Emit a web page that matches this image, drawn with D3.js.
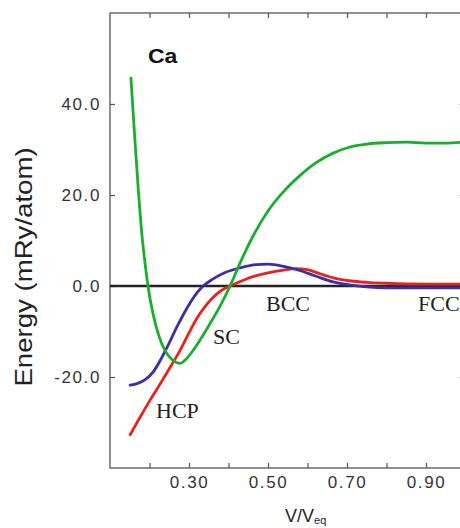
<!DOCTYPE html>
<html><head><meta charset="utf-8">
<script src="https://cdn.jsdelivr.net/npm/d3@7"></script>
<style>html,body{margin:0;padding:0;background:#fff;overflow:hidden}</style>
</head><body>
<svg id="c" width="460" height="528"></svg>
<script>
// ---- data ----
const scV  = [0.153,0.162,0.171,0.180,0.189,0.197,0.21,0.225,0.24,0.255,0.268,0.278,0.29,0.31,0.33,0.353,0.38,0.404,0.43,0.46,0.50,0.54,0.58,0.62,0.665,0.71,0.75,0.80,0.85,0.90,0.95,1.0];
const scE  = [45.7,33.5,22,12,4.8,-0.5,-6.5,-11.3,-14.3,-16.0,-16.8,-17.0,-16.3,-14.2,-11.6,-8.3,-4.2,0,5.2,10.6,16.5,20.8,24.2,27.0,29.2,30.6,31.2,31.5,31.6,31.4,31.4,31.7];
const bccV = [0.151,0.17,0.19,0.21,0.23,0.25,0.27,0.29,0.305,0.32,0.336,0.36,0.39,0.43,0.47,0.50,0.54,0.58,0.62,0.665,0.71,0.75,0.80,0.90,1.0];
const bccE = [-21.8,-21.4,-20.5,-18.8,-15.9,-12.5,-8.9,-5.6,-3.4,-1.5,0,1.5,2.9,4.0,4.7,4.8,4.3,3.4,2.2,0.9,0.2,-0.2,-0.4,-0.4,-0.4];
const hcpV = [0.151,0.175,0.20,0.225,0.25,0.277,0.30,0.32,0.34,0.36,0.38,0.404,0.43,0.46,0.50,0.54,0.57,0.60,0.625,0.665,0.71,0.75,0.80,0.90,1.0];
const hcpE = [-32.7,-29.0,-25.3,-21.8,-18.2,-14.2,-10.3,-7.1,-4.6,-2.6,-1.1,0,1.0,2.0,2.9,3.5,3.8,3.6,2.9,1.8,1.1,0.8,0.6,0.4,0.4];
const xTicks = [0.2,0.3,0.4,0.5,0.6,0.7,0.8,0.9];
const xTickLabels = {0.3:"0.30",0.5:"0.50",0.7:"0.70",0.9:"0.90"};
const yTicks = [-20,0,20,40];
const yTickLabels = {"-20":"-20.0","0":"0.0","20":"20.0","40":"40.0"};
const curveLabels = [
  {text:"HCP", v:0.2165, e:-29},
  {text:"SC",  v:0.3608, e:-12.7},
  {text:"BCC", v:0.495, e:-5.5},
  {text:"FCC", v:0.88,  e:-5.5}
];

// ---- drawing ----
const svg = d3.select("#c");
const x = d3.scaleLinear().domain([0.1,1.0]).range([110,465.5]);
const y = d3.scaleLinear().domain([-40,60]).range([468,13]);
const axisColor = "#555";

function styleAxis(g){
  g.select(".domain").remove();
  g.selectAll(".tick line").attr("stroke",axisColor).attr("stroke-width",1.2);
  g.selectAll(".tick text").attr("fill","#333")
    .style("font-family","'Liberation Sans', Arial, sans-serif")
    .style("font-size","17px").style("letter-spacing","1.6px");
}

svg.append("g").attr("transform","translate(0,468)")
  .call(d3.axisBottom(x).tickValues(xTicks).tickSizeInner(-5).tickSizeOuter(0).tickPadding(8)
    .tickFormat(d => xTickLabels[Math.round(d*10)/10] || ""))
  .call(styleAxis);
svg.append("g").attr("transform","translate(0,13)")
  .call(d3.axisTop(x).tickValues(xTicks).tickSizeInner(-5).tickSizeOuter(0).tickFormat(""))
  .call(styleAxis);
svg.append("g").attr("transform","translate(110,0)")
  .call(d3.axisLeft(y).tickValues(yTicks).tickSizeInner(-5).tickSizeOuter(0).tickPadding(9)
    .tickFormat(d => yTickLabels[String(d)]))
  .call(styleAxis);
svg.append("g").attr("transform","translate(465.5,0)")
  .call(d3.axisRight(y).tickValues(yTicks).tickSizeInner(-6).tickSizeOuter(0).tickFormat(""))
  .call(styleAxis);

// frame
svg.append("rect").attr("x",x(0.1)).attr("y",y(60))
  .attr("width",x(1.0)-x(0.1)).attr("height",y(-40)-y(60))
  .attr("fill","none").attr("stroke",axisColor).attr("stroke-width",1.3);

// zero line
svg.append("line").attr("x1",x(0.1)).attr("x2",x(1.0)).attr("y1",y(0)).attr("y2",y(0))
  .attr("stroke","#222").attr("stroke-width",2.6);

const line = d3.line().x(d=>x(d[0])).y(d=>y(d[1])).curve(d3.curveMonotoneX);
function series(vs, es, color){
  svg.append("path").datum(vs.map((v,i)=>[v,es[i]]))
    .attr("d",line).attr("fill","none").attr("stroke",color)
    .attr("stroke-width",2.8).attr("stroke-linejoin","round").attr("stroke-linecap","round");
}
series(hcpV,hcpE,"#e8231e");
series(bccV,bccE,"#3b2fa6");
series(scV,scE,"#1aae2f");

// curve labels
svg.selectAll("text.cl").data(curveLabels).enter().append("text")
  .attr("class","cl").attr("x",d=>x(d.v)).attr("y",d=>y(d.e))
  .attr("text-anchor","start")
  .style("font-family","'Liberation Serif', 'Times New Roman', serif")
  .style("font-size","22px").attr("fill","#222").text(d=>d.text);

// Ca label
svg.append("text").attr("transform","translate(148,63) scale(1.15,1)")
  .style("font-family","'Liberation Sans', Arial, sans-serif").style("font-weight","bold")
  .style("font-size","20px").attr("fill","#111").text("Ca");

// y title
svg.append("text").attr("transform","translate(32,267) rotate(-90) scale(1.2,1)")
  .attr("text-anchor","middle")
  .style("font-family","'Liberation Sans', Arial, sans-serif").style("font-size","23px")
  .attr("fill","#222").text("Energy (mRy/atom)");

// x title
const xt = svg.append("text").attr("x",285).attr("y",522)
  .style("font-family","'Liberation Sans', Arial, sans-serif").style("font-size","18px").attr("fill","#222");
xt.append("tspan").text("V/V");
xt.append("tspan").attr("dy",2).style("font-size","11px").text("eq");
</script>
</body></html>
